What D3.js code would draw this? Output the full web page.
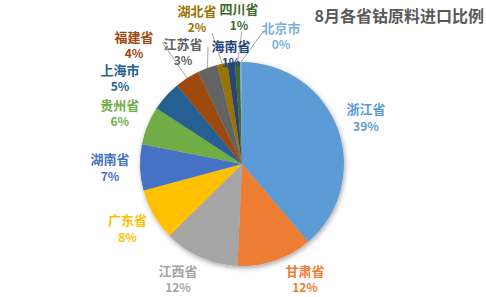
<!DOCTYPE html>
<html>
<head>
<meta charset="utf-8">
<script src="https://cdn.jsdelivr.net/npm/d3@7"></script>
<style>
  body { margin: 0; background: #fff; }
  svg { display: block; font-family: "Noto Sans CJK SC", "Noto Sans", sans-serif; }
</style>
</head>
<body>
<svg width="486" height="297"></svg>
<script>
const provinces = ["浙江省", "甘肃省", "江西省", "广东省", "湖南省", "贵州省", "上海市", "福建省", "江苏省", "湖北省", "海南省", "四川省", "北京市"];
const shares = [38.8, 11.9, 11.9, 8.2, 7.3, 6.1, 4.8, 3.9, 3.2, 1.6, 1.2, 0.8, 0.3];
const colors = ["#5B9BD5", "#ED7D31", "#A5A5A5", "#FFC000", "#4472C4", "#70AD47", "#255E91", "#9E480E", "#636363", "#997300", "#264478", "#43682B", "#7CAFDD"];
const title = "8月各省钴原料进口比例";

const svg = d3.select("svg");
const cx = 242, cy = 164, radius = 102;
const labelRadius = 132;

// crowded labels moved by hand (name position relative to pie centre, leader start)
const labelNudge = {
  "甘肃省": { pos: [63, 107] },
  "江西省": { pos: [-64, 107] },
  "上海市": { pos: [-122, -94] },
  "福建省": { pos: [-108, -127], lead: [-80, -122] },
  "江苏省": { pos: [-59, -120], lead: [-34, -117] },
  "湖北省": { pos: [-45, -153], lead: [-30, -131] },
  "海南省": { pos: [-11, -118] },
  "四川省": { pos: [-3, -155], lead: [0, -133] },
  "北京市": { pos: [39, -136], lead: [20, -131] }
};

const data = provinces.map((p, i) => ({ name: p, value: shares[i], color: colors[i] }));

const pie = d3.pie().sort(null).value(d => d.value);
const arc = d3.arc().innerRadius(0).outerRadius(radius);
const arcs = pie(data);

const defs = svg.append("defs");
const filter = defs.append("filter").attr("id", "shadow")
  .attr("x", "-20%").attr("y", "-20%").attr("width", "140%").attr("height", "140%");
filter.append("feDropShadow")
  .attr("dx", 1).attr("dy", 2).attr("stdDeviation", 2.5)
  .attr("flood-color", "#000").attr("flood-opacity", 0.35);

const g = svg.append("g").attr("transform", `translate(${cx},${cy})`);

g.append("g").attr("filter", "url(#shadow)")
  .selectAll("path")
  .data(arcs)
  .enter()
  .append("path")
  .attr("fill", d => d.data.color)
  .attr("d", arc);

function midPoint(d, r) {
  const a = (d.startAngle + d.endAngle) / 2;
  return [r * Math.sin(a), -r * Math.cos(a)];
}

// leader lines
g.selectAll(".leader")
  .data(arcs.filter(d => labelNudge[d.data.name] && labelNudge[d.data.name].lead))
  .enter()
  .append("line")
  .attr("class", "leader")
  .attr("x1", d => labelNudge[d.data.name].lead[0])
  .attr("y1", d => labelNudge[d.data.name].lead[1])
  .attr("x2", d => midPoint(d, radius)[0])
  .attr("y2", d => midPoint(d, radius)[1])
  .attr("stroke", "#A6A6A6")
  .attr("stroke-width", 1);

const labels = g.selectAll(".lbl")
  .data(arcs)
  .enter()
  .append("g")
  .attr("class", "lbl")
  .attr("transform", d => {
    const n = labelNudge[d.data.name];
    const p = n ? n.pos : midPoint(d, labelRadius).map((v, i) => i ? v - 9 : v);
    return `translate(${p[0]},${p[1]})`;
  });

labels.append("text")
  .attr("text-anchor", "middle")
  .attr("dy", "0.35em")
  .attr("font-size", 13)
  .attr("font-weight", "bold")
  .attr("fill", d => d.data.color)
  .text(d => d.data.name);

labels.append("text")
  .attr("text-anchor", "middle")
  .attr("y", 17)
  .attr("dy", "0.35em")
  .attr("font-size", 12)
  .attr("font-weight", "bold")
  .attr("fill", d => d.data.color)
  .text(d => Math.round(d.value) + "%");

svg.append("text")
  .attr("x", 484)
  .attr("y", 22)
  .attr("text-anchor", "end")
  .attr("font-size", 16)
  .attr("font-weight", "bold")
  .attr("fill", "#595959")
  .text(title);
</script>
</body>
</html>
